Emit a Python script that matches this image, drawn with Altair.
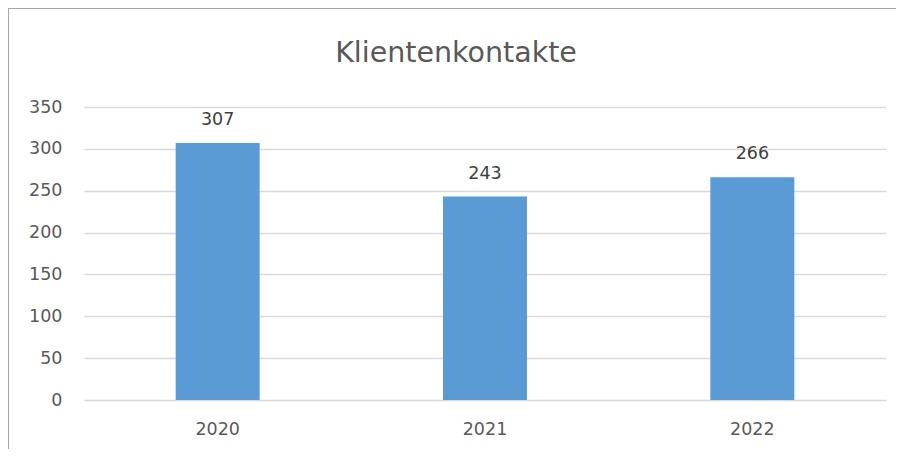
import altair as alt
import pandas as pd

years = ["2020", "2021", "2022"]
counts = [307, 243, 266]
y_ticks = [0, 50, 100, 150, 200, 250, 300, 350]

df = pd.DataFrame({"Jahr": years, "Kontakte": counts})

FONT = "DejaVu Sans"
W, H = 802, 293
PAD = {"left": 76, "top": 99, "right": 10, "bottom": 49}

base = alt.Chart(df).encode(
    x=alt.X(
        "Jahr:N",
        sort=years,
        scale=alt.Scale(paddingInner=0, paddingOuter=0),
        axis=alt.Axis(
            title=None, labelAngle=0, domain=False, ticks=False,
            labelPadding=20, labelFontSize=17.5, labelFont=FONT,
            labelColor="#595959", grid=False,
        ),
    ),
    y=alt.Y(
        "Kontakte:Q",
        scale=alt.Scale(domain=[0, 350], nice=False),
        axis=alt.Axis(
            title=None, values=y_ticks, domain=False, ticks=False,
            labelPadding=22, labelFontSize=17.5, labelFont=FONT,
            labelColor="#595959", grid=True, gridColor="#d9d9d9",
            gridWidth=1.3,
        ),
    ),
)

bars = base.mark_bar(size=84, color="#5b9bd5")
labels = base.mark_text(
    baseline="alphabetic", dy=-18, fontSize=17.5, font=FONT, color="#404040"
).encode(text="Kontakte:Q")

border_left = alt.Chart(df).mark_rule(color="#a6a6a6", strokeWidth=1).encode(
    x=alt.value(-PAD["left"] + 0.5), y=alt.value(-PAD["top"] + 0.5), y2=alt.value(H + PAD["bottom"] + 20)
)
border_top = alt.Chart(df).mark_rule(color="#a6a6a6", strokeWidth=1).encode(
    x=alt.value(-PAD["left"] + 0.5), x2=alt.value(W + PAD["right"] + 20), y=alt.value(-PAD["top"] + 0.5)
)

chart = (
    alt.layer(bars, labels, border_left, border_top)
    .properties(
        width=W,
        height=H,
        padding=PAD,
        background="white",
        autosize=alt.AutoSizeParams(type="none"),
        title=alt.TitleParams(
            "Klientenkontakte", fontSize=28.5, font=FONT, fontWeight="normal",
            color="#595959", anchor="middle", baseline="alphabetic",
            offset=0, dy=82, dx=-29,
        ),
    )
    .configure_view(strokeWidth=0, stroke="transparent")
)

chart.save("out.html", embed_options={"renderer": "svg", "actions": False})
